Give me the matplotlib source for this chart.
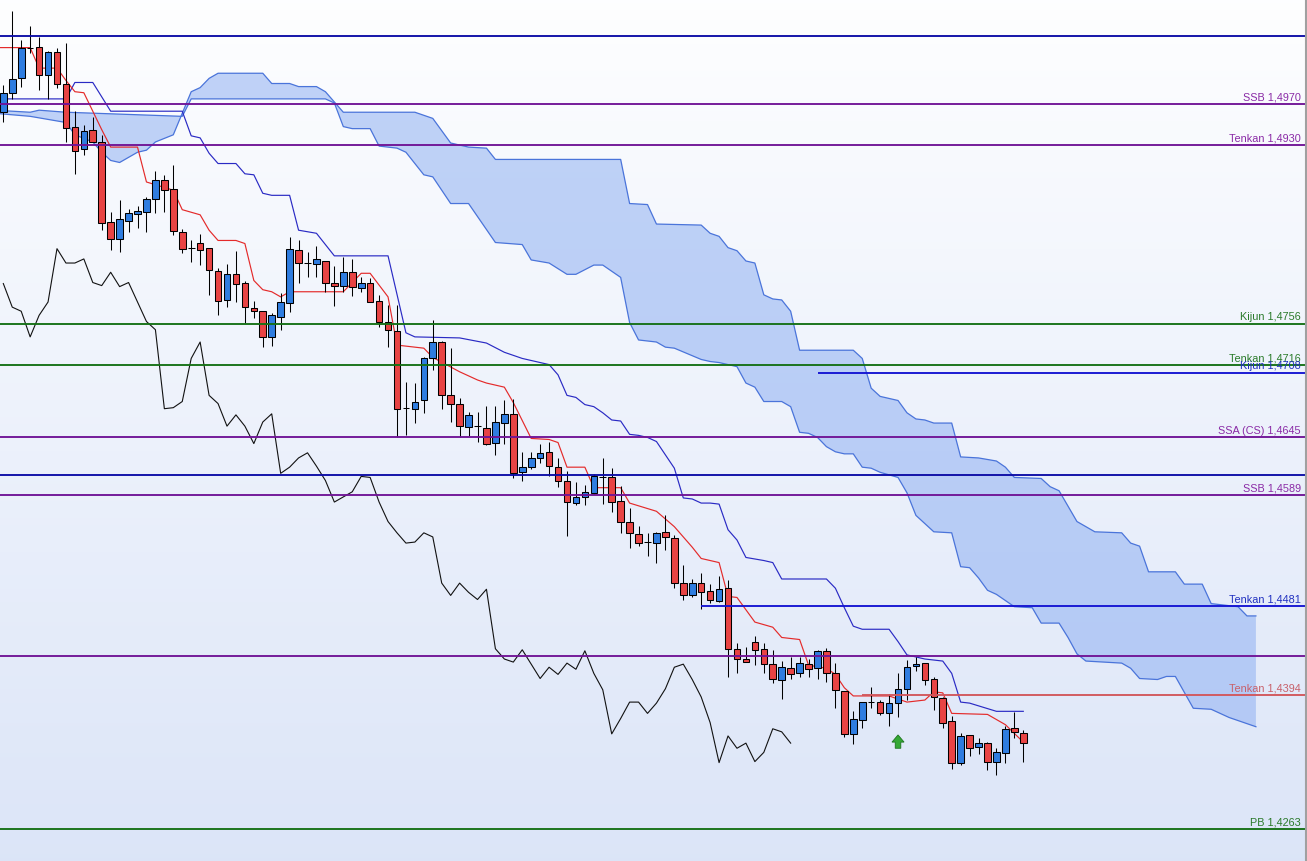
import numpy as np
import matplotlib
matplotlib.use("Agg")
import matplotlib.pyplot as plt
from matplotlib.patches import FancyArrow
from matplotlib.lines import Line2D

# ---- candles (one per bar, index 0..114) ----
opens = [1.4962, 1.4981, 1.4995, 1.5025, 1.5026, 1.4998, 1.5021, 1.4990, 1.4948, 1.4926,
         1.4945, 1.4933, 1.4855, 1.4838, 1.4856, 1.4863, 1.4865, 1.4877, 1.4896, 1.4887,
         1.4845, 1.4830, 1.4835, 1.4830, 1.4807, 1.4779, 1.4804, 1.4796, 1.4771, 1.4768,
         1.4743, 1.4762, 1.4776, 1.4828, 1.4815, 1.4814, 1.4817, 1.4796, 1.4793, 1.4806,
         1.4791, 1.4796, 1.4778, 1.4758, 1.4749, 1.4674, 1.4673, 1.4681, 1.4722, 1.4738,
         1.4686, 1.4678, 1.4655, 1.4656, 1.4654, 1.4640, 1.4659, 1.4668, 1.4611, 1.4616,
         1.4625, 1.4631, 1.4616, 1.4603, 1.4581, 1.4587, 1.4591, 1.4606, 1.4606, 1.4583,
         1.4563, 1.4551, 1.4543, 1.4542, 1.4553, 1.4547, 1.4503, 1.4491, 1.4503, 1.4495,
         1.4486, 1.4498, 1.4439, 1.4429, 1.4446, 1.4439, 1.4424, 1.4409, 1.4420, 1.4415,
         1.4424, 1.4420, 1.4437, 1.4415, 1.4398, 1.4356, 1.4370, 1.4387, 1.4387, 1.4376,
         1.4386, 1.4400, 1.4422, 1.4425, 1.4410, 1.4391, 1.4369, 1.4328, 1.4355, 1.4343,
         1.4347, 1.4329, 1.4337, 1.4362, 1.4357]
highs = [1.4989, 1.5061, 1.5032, 1.5046, 1.5035, 1.5022, 1.5025, 1.5029, 1.4963, 1.4950,
         1.4957, 1.4940, 1.4865, 1.4876, 1.4868, 1.4871, 1.4879, 1.4905, 1.4901, 1.4911,
         1.4848, 1.4837, 1.4843, 1.4830, 1.4810, 1.4814, 1.4827, 1.4797, 1.4778, 1.4768,
         1.4766, 1.4786, 1.4840, 1.4837, 1.4826, 1.4832, 1.4817, 1.4812, 1.4821, 1.4819,
         1.4801, 1.4800, 1.4784, 1.4774, 1.4774, 1.4699, 1.4698, 1.4723, 1.4759, 1.4739,
         1.4732, 1.4683, 1.4670, 1.4670, 1.4676, 1.4676, 1.4681, 1.4682, 1.4631, 1.4631,
         1.4639, 1.4641, 1.4625, 1.4612, 1.4602, 1.4599, 1.4609, 1.4625, 1.4615, 1.4598,
         1.4576, 1.4559, 1.4552, 1.4553, 1.4569, 1.4550, 1.4521, 1.4507, 1.4513, 1.4502,
         1.4510, 1.4506, 1.4445, 1.4441, 1.4451, 1.4445, 1.4438, 1.4427, 1.4431, 1.4431,
         1.4429, 1.4438, 1.4440, 1.4425, 1.4398, 1.4378, 1.4387, 1.4402, 1.4389, 1.4395,
         1.4415, 1.4428, 1.4431, 1.4425, 1.4411, 1.4392, 1.4373, 1.4357, 1.4355, 1.4352,
         1.4348, 1.4342, 1.4364, 1.4377, 1.4360]
lows = [1.4952, 1.4975, 1.4987, 1.5020, 1.4984, 1.4975, 1.4986, 1.4933, 1.4902, 1.4920,
        1.4933, 1.4847, 1.4828, 1.4826, 1.4845, 1.4849, 1.4845, 1.4864, 1.4865, 1.4842,
        1.4825, 1.4816, 1.4813, 1.4784, 1.4764, 1.4772, 1.4777, 1.4757, 1.4761, 1.4733,
        1.4734, 1.4750, 1.4767, 1.4796, 1.4801, 1.4801, 1.4787, 1.4773, 1.4787, 1.4783,
        1.4787, 1.4777, 1.4753, 1.4733, 1.4645, 1.4647, 1.4659, 1.4669, 1.4711, 1.4673,
        1.4660, 1.4645, 1.4646, 1.4641, 1.4638, 1.4628, 1.4639, 1.4605, 1.4603, 1.4614,
        1.4620, 1.4607, 1.4597, 1.4549, 1.4579, 1.4579, 1.4590, 1.4580, 1.4572, 1.4552,
        1.4537, 1.4539, 1.4529, 1.4523, 1.4535, 1.4498, 1.4487, 1.4489, 1.4478, 1.4484,
        1.4485, 1.4411, 1.4415, 1.4426, 1.4423, 1.4415, 1.4406, 1.4390, 1.4410, 1.4411,
        1.4411, 1.4410, 1.4407, 1.4381, 1.4353, 1.4346, 1.4362, 1.4381, 1.4374, 1.4364,
        1.4372, 1.4389, 1.4417, 1.4404, 1.4379, 1.4362, 1.4322, 1.4326, 1.4334, 1.4336,
        1.4321, 1.4316, 1.4328, 1.4352, 1.4329]
closes = [1.4981, 1.4994, 1.5025, 1.5025, 1.4998, 1.5021, 1.4990, 1.4947, 1.4924, 1.4944,
          1.4933, 1.4854, 1.4838, 1.4858, 1.4864, 1.4866, 1.4877, 1.4896, 1.4886, 1.4846,
          1.4829, 1.4830, 1.4828, 1.4808, 1.4778, 1.4804, 1.4795, 1.4772, 1.4768, 1.4743,
          1.4764, 1.4777, 1.4829, 1.4815, 1.4815, 1.4819, 1.4796, 1.4793, 1.4806, 1.4792,
          1.4796, 1.4777, 1.4758, 1.4750, 1.4673, 1.4674, 1.4680, 1.4722, 1.4738, 1.4686,
          1.4678, 1.4656, 1.4667, 1.4656, 1.4639, 1.4660, 1.4668, 1.4610, 1.4616, 1.4625,
          1.4630, 1.4617, 1.4603, 1.4582, 1.4587, 1.4592, 1.4607, 1.4606, 1.4582, 1.4563,
          1.4552, 1.4542, 1.4543, 1.4552, 1.4548, 1.4503, 1.4491, 1.4503, 1.4494, 1.4487,
          1.4497, 1.4439, 1.4429, 1.4426, 1.4438, 1.4424, 1.4410, 1.4421, 1.4414, 1.4425,
          1.4419, 1.4437, 1.4415, 1.4399, 1.4356, 1.4371, 1.4387, 1.4387, 1.4376, 1.4386,
          1.4400, 1.4421, 1.4424, 1.4409, 1.4392, 1.4367, 1.4328, 1.4354, 1.4342, 1.4347,
          1.4329, 1.4338, 1.4361, 1.4358, 1.4347]

# ---- Ichimoku lines: (bar index, price) vertices ----
tenkan_i = [-1, 3, 4, 6, 7, 8, 9, 11, 12, 15, 16, 19, 20, 22, 23, 24, 26, 27, 28, 29,
            30, 31, 32, 38, 40, 41, 43, 44, 47, 48, 51, 53, 54, 56, 57, 59, 61, 62, 63, 65,
            66, 69, 70, 73, 75, 77, 78, 80, 81, 82, 84, 86, 87, 89, 90, 92, 93, 94, 95, 99,
            101, 103, 104, 105, 106, 110, 112, 114]
tenkan_p = [1.5025, 1.5025, 1.5005, 1.5005, 1.4993, 1.4982, 1.4981, 1.4945, 1.4928, 1.4928,
            1.4894, 1.4886, 1.4867, 1.4862, 1.4847, 1.4837, 1.4837, 1.4834, 1.4798, 1.4789,
            1.4787, 1.4782, 1.4787, 1.4787, 1.4805, 1.4805, 1.4782, 1.4735, 1.4732, 1.4723,
            1.4709, 1.4701, 1.4698, 1.4694, 1.4679, 1.4644, 1.4643, 1.4640, 1.4616, 1.4616,
            1.4596, 1.4596, 1.4581, 1.4573, 1.4558, 1.4538, 1.4527, 1.4523, 1.4490, 1.4489,
            1.4465, 1.4460, 1.4450, 1.4448, 1.4423, 1.4420, 1.4414, 1.4401, 1.4393, 1.4393,
            1.4387, 1.4389, 1.4397, 1.4396, 1.4376, 1.4375, 1.4365, 1.4348]

kijun_i = [-1, 7, 8, 10, 12, 20, 21, 22, 23, 24, 26, 27, 28, 29, 30, 32, 33, 35, 37, 43,
           45, 46, 51, 54, 56, 58, 61, 62, 63, 64, 65, 66, 67, 68, 69, 70, 71, 72, 73, 74,
           75, 76, 77, 78, 79, 80, 81, 82, 83, 85, 86, 87, 92, 93, 94, 95, 96, 99, 100, 101,
           103, 105, 106, 107, 108, 111, 114]
kijun_p = [1.4975, 1.4975, 1.4991, 1.4991, 1.4963, 1.4963, 1.4939, 1.4937, 1.4922, 1.4912,
           1.4912, 1.4902, 1.4901, 1.4883, 1.4881, 1.4881, 1.4847, 1.4844, 1.4822, 1.4822,
           1.4747, 1.4743, 1.4742, 1.4737, 1.4728, 1.4722, 1.4716, 1.4706, 1.4686, 1.4684,
           1.4677, 1.4675, 1.4669, 1.4662, 1.4661, 1.4648, 1.4647, 1.4645, 1.4641, 1.4628,
           1.4615, 1.4586, 1.4585, 1.4581, 1.4581, 1.4580, 1.4555, 1.4545, 1.4528, 1.4525,
           1.4523, 1.4507, 1.4507, 1.4498, 1.4479, 1.4461, 1.4458, 1.4458, 1.4446, 1.4433,
           1.4429, 1.4427, 1.4415, 1.4387, 1.4386, 1.4378, 1.4378]

ssa_i = [-1, 3, 7, 8, 10, 11, 12, 13, 15, 16, 17, 19, 20, 21, 22, 23, 24, 29, 30, 32,
         33, 35, 36, 37, 38, 46, 48, 50, 52, 54, 55, 69, 70, 72, 73, 78, 79, 80, 81, 82,
         83, 84, 85, 86, 87, 88, 89, 95, 96, 97, 98, 100, 101, 102, 103, 104, 106, 107, 109, 111,
         112, 113, 116, 117, 118, 120, 122, 125, 126, 127, 128, 131, 132, 134, 135, 138, 139, 140]
ssa_p = [1.4961, 1.4958, 1.4952, 1.4940, 1.4933, 1.4923, 1.4915, 1.4913, 1.4923, 1.4925,
         1.4933, 1.4940, 1.4961, 1.4982, 1.4986, 1.4995, 1.5000, 1.5000, 1.4990, 1.4990,
         1.4987, 1.4987, 1.4982, 1.4972, 1.4962, 1.4962, 1.4956, 1.4932, 1.4928, 1.4927,
         1.4916, 1.4916, 1.4873, 1.4872, 1.4853, 1.4852, 1.4844, 1.4841, 1.4830, 1.4827,
         1.4817, 1.4815, 1.4784, 1.4780, 1.4779, 1.4768, 1.4730, 1.4730, 1.4722, 1.4693,
         1.4685, 1.4681, 1.4669, 1.4663, 1.4662, 1.4659, 1.4659, 1.4626, 1.4625, 1.4622,
         1.4616, 1.4606, 1.4605, 1.4597, 1.4593, 1.4563, 1.4553, 1.4552, 1.4542, 1.4539,
         1.4514, 1.4514, 1.4502, 1.4502, 1.4483, 1.4480, 1.4471, 1.4471]

ssb_i = [-1, 3, 4, 7, 20, 21, 36, 37, 38, 39, 41, 42, 44, 45, 47, 48, 50, 52, 55, 58,
         59, 61, 63, 64, 66, 67, 69, 70, 71, 73, 74, 75, 78, 79, 80, 82, 83, 84, 85, 86,
         87, 88, 89, 90, 91, 92, 93, 94, 95, 96, 97, 98, 100, 101, 102, 104, 106, 107, 108, 109,
         110, 111, 113, 115, 116, 118, 119, 120, 121, 125, 126, 127, 129, 130, 131, 133, 135, 137, 140]
ssb_p = [1.4964, 1.4962, 1.4964, 1.4962, 1.4958, 1.4975, 1.4975, 1.4971, 1.4948, 1.4946,
         1.4946, 1.4929, 1.4927, 1.4923, 1.4901, 1.4899, 1.4873, 1.4873, 1.4835, 1.4833,
         1.4818, 1.4815, 1.4804, 1.4804, 1.4813, 1.4813, 1.4801, 1.4757, 1.4740, 1.4738,
         1.4733, 1.4732, 1.4721, 1.4719, 1.4718, 1.4714, 1.4698, 1.4694, 1.4680, 1.4680,
         1.4680, 1.4675, 1.4650, 1.4649, 1.4645, 1.4636, 1.4631, 1.4629, 1.4629, 1.4616,
         1.4615, 1.4611, 1.4606, 1.4591, 1.4569, 1.4553, 1.4552, 1.4519, 1.4518, 1.4508,
         1.4496, 1.4492, 1.4480, 1.4479, 1.4464, 1.4464, 1.4450, 1.4434, 1.4427, 1.4425,
         1.4420, 1.4410, 1.4409, 1.4412, 1.4412, 1.4381, 1.4380, 1.4372, 1.4363]

CHIKOU_SHIFT = 26

# ---- drawn levels ----
level_names = ["SSB", "Tenkan", "Kijun", "Tenkan", "Kijun", "SSA (CS)", "SSB", "Tenkan", "Tenkan", "PB"]
level_prices = [1.4970, 1.4930, 1.4756, 1.4716, 1.4708, 1.4645, 1.4589, 1.4481, 1.4394, 1.4263]
level_kinds = ["purple", "purple", "green", "green", "blue", "purple", "purple", "blue", "red", "green"]
level_start = [None, None, None, None, 91, None, None, 78, 96, None]
plain_prices = [1.5036, 1.4608, 1.4432]
plain_kinds = ["navy", "navy", "purple"]

signal_i = [100]
signal_p = [1.4342]

LINE_C = {"purple": "#701496", "green": "#157015", "blue": "#1414d2", "navy": "#0c0ca6", "red": "#d2565c"}
TEXT_C = {"purple": "#8a2aa6", "green": "#2a7a2a", "blue": "#2030c0", "red": "#c8606a"}
UP, DOWN = "#2f7de0", "#e84444"

W, H = 1307, 861
fig = plt.figure(figsize=(W / 100, H / 100), dpi=100)
ax = fig.add_axes([0, 0, 1, 1])
XL = (-0.37, 145.71)
YL = (1.42321, 1.50714)
ax.set_xlim(*XL)
ax.set_ylim(*YL)
ax.axis("off")

# background gradient
top = np.array([0.995, 0.997, 1.0])
bot = np.array([0.862, 0.898, 0.972])
t = np.linspace(0, 1, 256)[:, None, None]
grad = top * (1 - t) + bot * t
ax.imshow(grad, extent=[XL[0], XL[1], YL[0], YL[1]], origin="upper", aspect="auto", zorder=0)

# cloud
poly_x = list(ssa_i) + list(ssb_i[::-1])
poly_y = list(ssa_p) + list(ssb_p[::-1])
ax.fill(poly_x, poly_y, color="#8fb0f2", alpha=0.55, lw=0, zorder=1)
ax.plot(ssa_i, ssa_p, color="#4a74da", lw=0.9, zorder=2)
ax.plot(ssb_i, ssb_p, color="#4a74da", lw=0.9, zorder=2)

# chikou, kijun, tenkan
idx = np.arange(len(closes))
ax.plot(idx[CHIKOU_SHIFT:] - CHIKOU_SHIFT, closes[CHIKOU_SHIFT:], color="#111111", lw=0.8, zorder=3)
ax.plot(kijun_i, kijun_p, color="#2a2ac4", lw=0.85, zorder=4)
ax.plot(tenkan_i, tenkan_p, color="#e42a2a", lw=0.85, zorder=4)

# candles
o = np.array(opens); c = np.array(closes)
cols = np.where(c > o, UP, np.where(c < o, DOWN, "black"))
ax.vlines(idx, lows, highs, color="black", lw=0.75, zorder=5)
ax.bar(idx, np.abs(c - o), bottom=np.minimum(o, c), width=0.74, color=cols,
       edgecolor="black", linewidth=0.75, zorder=6)

# horizontal levels
for p, k in zip(plain_prices, plain_kinds):
    ax.hlines(p, XL[0], XL[1], color=LINE_C[k], lw=1.35, zorder=8)
for name, p, k, s in zip(level_names, level_prices, level_kinds, level_start):
    x0 = XL[0] if s is None else s
    ax.hlines(p, x0, XL[1], color=LINE_C[k], lw=1.35, zorder=8)
    ax.text(1301 / W, p + 0.00034, f"{name} {p:.4f}".replace(".", ","),
            transform=ax.get_yaxis_transform(), ha="right", va="baseline",
            fontsize=7.8, family="Liberation Sans", color=TEXT_C[k], zorder=9)

# buy signal arrow
for si, sp in zip(signal_i, signal_p):
    ax.add_patch(FancyArrow(si, sp, 0, 0.0013, width=0.62, head_width=1.35, head_length=0.0007,
                            length_includes_head=True, fc="#35a835", ec="#1d741d", lw=0.6, zorder=7))

# right border
fig.add_artist(Line2D([1305.5 / W] * 2, [0, 1], transform=fig.transFigure, color="#a0a0a0", lw=1.5))

fig.savefig("out.png", dpi=100)
